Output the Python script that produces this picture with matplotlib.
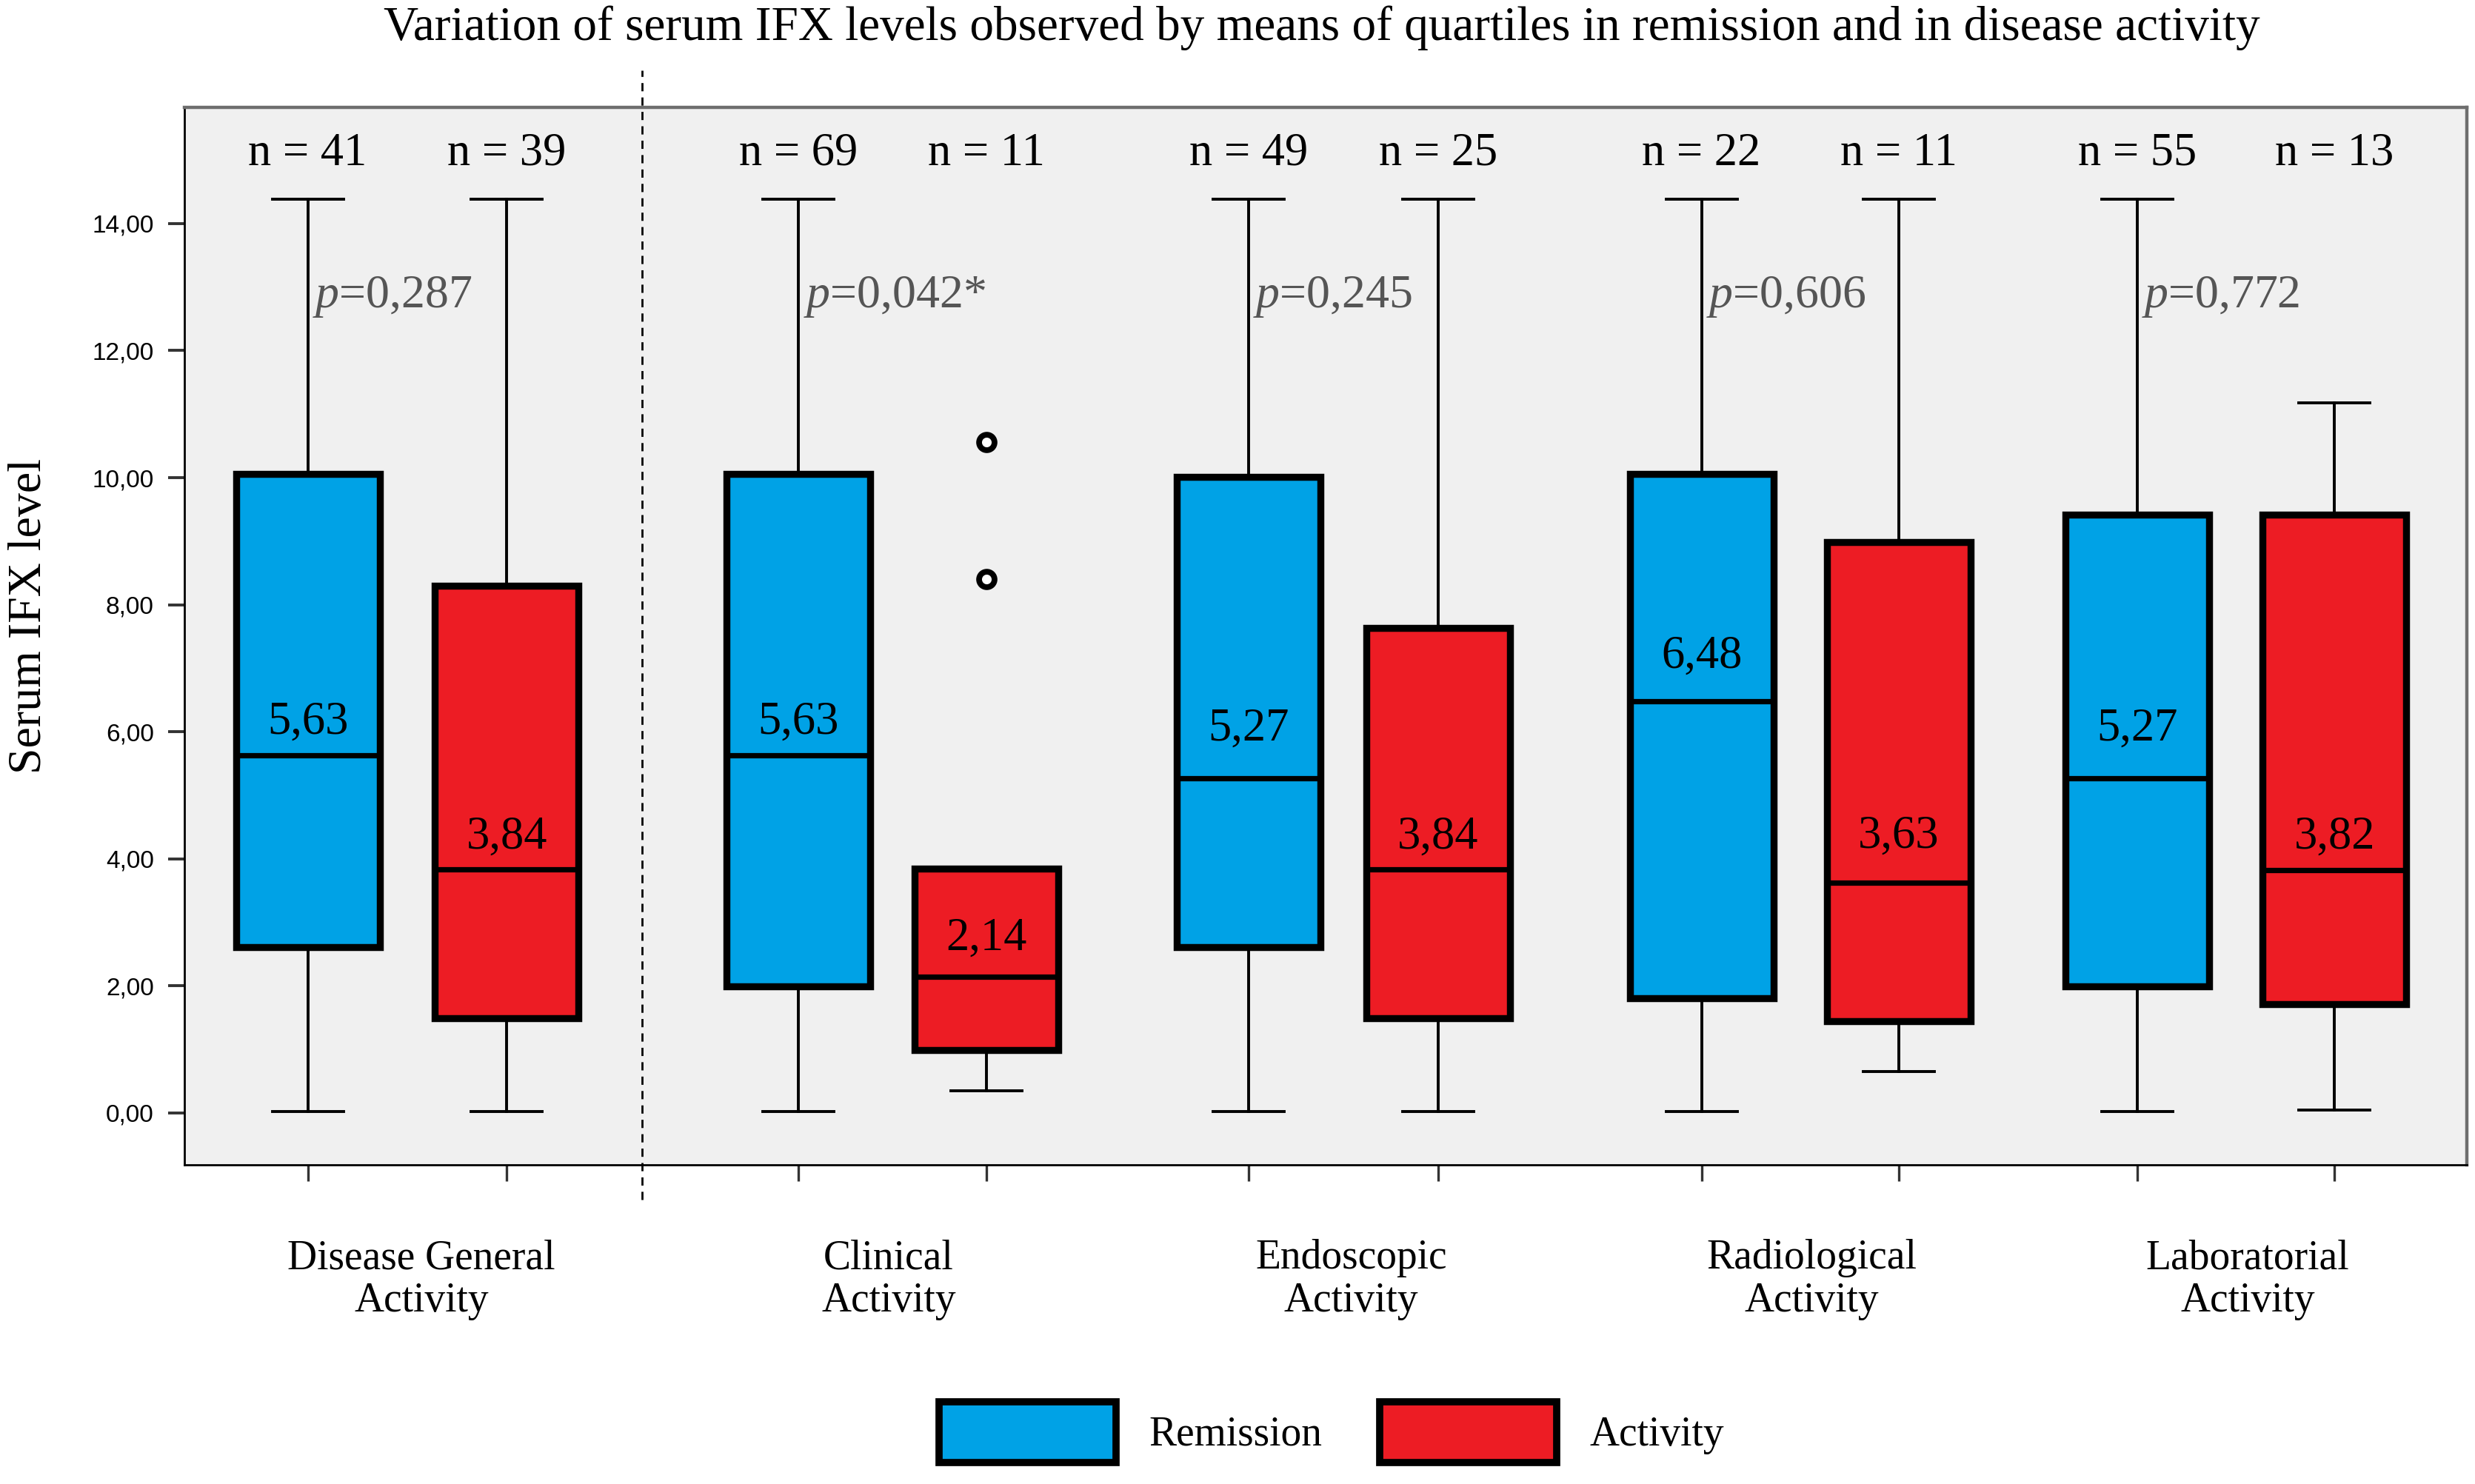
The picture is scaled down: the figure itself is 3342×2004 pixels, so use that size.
import matplotlib
matplotlib.use("Agg")
import matplotlib.pyplot as plt
from matplotlib.patches import Patch

plt.rcParams['font.family'] = ['Liberation Serif', 'DejaVu Serif']
plt.rcParams['mathtext.fontset'] = 'custom'
plt.rcParams['mathtext.it'] = 'Liberation Serif:italic'
plt.rcParams['mathtext.rm'] = 'Liberation Serif'

# data (remission / activity per category)
categories = ["Disease General\nActivity", "Clinical\nActivity", "Endoscopic\nActivity",
              "Radiological\nActivity", "Laboratorial\nActivity"]
groups = ["Remission", "Activity"]
n_counts = [41, 39, 69, 11, 49, 25, 22, 11, 55, 13]
p_values = ["0,287", "0,042*", "0,245", "0,606", "0,772"]
medians = [5.63, 3.84, 5.63, 2.14, 5.27, 3.84, 6.48, 3.63, 5.27, 3.82]
q1 = [2.61, 1.49, 1.99, 0.99, 2.61, 1.49, 1.81, 1.44, 1.99, 1.71]
q3 = [10.06, 8.30, 10.06, 3.85, 10.01, 7.63, 10.06, 8.99, 9.42, 9.42]
wlo = [0.02, 0.02, 0.02, 0.35, 0.02, 0.02, 0.02, 0.65, 0.02, 0.05]
whi = [14.38, 14.38, 14.38, 3.85, 14.38, 14.38, 14.38, 14.38, 14.38, 11.18]
outliers = [[], [], [], [10.56, 8.40], [], [], [], [], [], []]

BLUE = "#00a2e6"
RED = "#ed1c24"

# layout
positions = [1.95, 3.21, 5.06, 6.25, 7.91, 9.11, 10.78, 12.03, 13.54, 14.79]
label_x = [2.67, 5.63, 8.56, 11.48, 14.24]
med_gap = [0.52, 0.50, 0.52, 0.60, 0.77, 0.50, 0.70, 0.72, 0.77, 0.52]

fig = plt.figure(figsize=(16.71, 10.02), dpi=200)
ax = fig.add_axes([0.0746, 0.2149, 0.9222, 0.7128])
ax.set_facecolor("#f0f0f0")

stats = []
for i in range(len(medians)):
    stats.append(dict(med=medians[i], q1=q1[i], q3=q3[i], whislo=wlo[i],
                      whishi=whi[i], fliers=outliers[i]))

bp = ax.bxp(stats, positions=positions, widths=0.91, capwidths=0.45,
            patch_artist=True, showfliers=True,
            boxprops=dict(linewidth=3.4, edgecolor="black"),
            medianprops=dict(color="black", linewidth=2.6),
            whiskerprops=dict(color="black", linewidth=1.4),
            capprops=dict(color="black", linewidth=1.4),
            flierprops=dict(marker="o", markerfacecolor="white", markeredgecolor="black",
                            markersize=7.5, markeredgewidth=2.8))
for i, box in enumerate(bp["boxes"]):
    box.set_facecolor(BLUE if i % 2 == 0 else RED)

ax.set_xlim(1.17, 15.63)
ax.set_ylim(-0.82, 15.83)

# y axis
ax.set_yticks(range(0, 16, 2))
ax.set_yticklabels([f"{v},00" for v in range(0, 16, 2)], fontfamily="Liberation Sans",
                   fontsize=12)
ax.tick_params(axis="y", length=8, width=1.4, color="#333333", pad=7)

# x ticks at boxes, category labels as minor ticks
ax.set_xticks(positions)
ax.set_xticklabels([])
ax.tick_params(axis="x", which="major", length=8, width=1.2, color="#333333")
ax.set_xticks(label_x, minor=True)
ax.set_xticklabels(categories, minor=True, fontsize=20, linespacing=1.15)
ax.tick_params(axis="x", which="minor", length=0, pad=36)

for side in ["left", "bottom"]:
    ax.spines[side].set_color("black")
    ax.spines[side].set_linewidth(1.0)
for side in ["top", "right"]:
    ax.spines[side].set_color("#6e6e6e")
    ax.spines[side].set_linewidth(1.6)

# annotations
for i, pos in enumerate(positions):
    ax.text(pos, 15.1, f"n = {n_counts[i]}", ha="center", va="center", fontsize=22.5)
    ax.text(pos, medians[i] + med_gap[i], f"{medians[i]:.2f}".replace(".", ","),
            ha="center", va="center", fontsize=22.5)

for k, pv in enumerate(p_values):
    ax.text(positions[2 * k] + 0.03, 12.85, r"$p$=" + pv, ha="left", va="center",
            fontsize=23, color="#555555")

ax.axvline(4.07, ymin=-0.033, ymax=1.035, color="black", linestyle=(0, (4, 3)),
           linewidth=1.0, clip_on=False)

fig.text(0.534, 0.981, "Variation of serum IFX levels observed by means of quartiles in "
         "remission and in disease activity", ha="center", va="center", fontsize=23.5)
fig.text(0.012, 0.585, "Serum IFX level", rotation=90, ha="center", va="center", fontsize=23)

handles = [Patch(facecolor=BLUE, edgecolor="black", linewidth=3.5, label=groups[0]),
           Patch(facecolor=RED, edgecolor="black", linewidth=3.5, label=groups[1])]
fig.legend(handles=handles, loc="center", bbox_to_anchor=(0.538, 0.035), ncol=2,
           frameon=False, fontsize=20, handlelength=4.3, handleheight=1.9,
           handletextpad=0.8, columnspacing=1.4)

fig.savefig("out.png", dpi=200, facecolor="white")
